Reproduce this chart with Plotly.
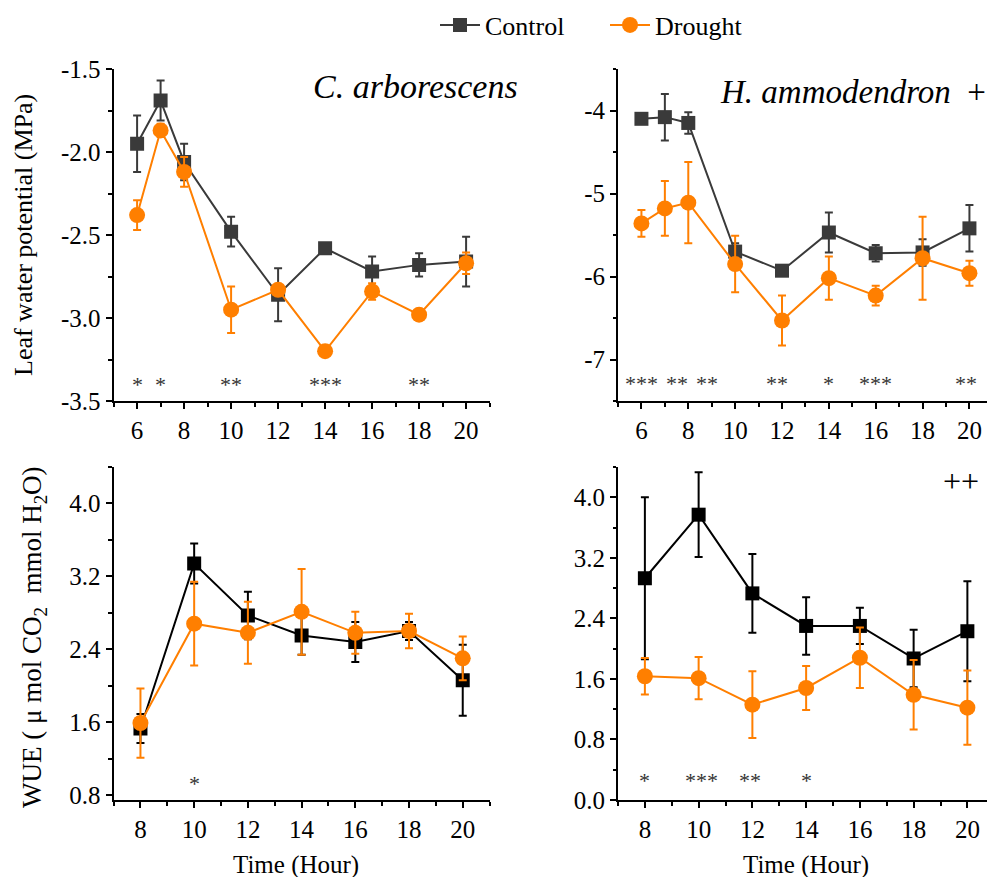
import plotly.graph_objects as go

# ---------------- data ----------------
hours_lwp = [6, 7, 8, 10, 12, 14, 16, 18, 20]
hours_wue = [8, 10, 12, 14, 16, 18, 20]

# C. arborescens - leaf water potential (MPa)
ca_lwp_ctrl = [-1.95, -1.69, -2.06, -2.48, -2.86, -2.58, -2.72, -2.68, -2.66]
ca_lwp_ctrl_err = [0.17, 0.12, 0.11, 0.09, 0.16, 0.03, 0.09, 0.07, 0.15]
ca_lwp_drt = [-2.38, -1.87, -2.12, -2.95, -2.83, -3.20, -2.84, -2.98, -2.67]
ca_lwp_drt_err = [0.09, 0.04, 0.09, 0.14, 0.03, 0.02, 0.05, 0.03, 0.065]

# H. ammodendron - leaf water potential (MPa)
ha_lwp_ctrl = [-4.10, -4.08, -4.15, -5.70, -5.93, -5.47, -5.72, -5.71, -5.42]
ha_lwp_ctrl_err = [0.03, 0.28, 0.13, 0.10, 0.03, 0.24, 0.10, 0.16, 0.28]
ha_lwp_drt = [-5.36, -5.18, -5.11, -5.85, -6.53, -6.02, -6.23, -5.78, -5.96]
ha_lwp_drt_err = [0.16, 0.33, 0.49, 0.34, 0.30, 0.26, 0.12, 0.50, 0.15]

# C. arborescens - WUE
ca_wue_ctrl = [1.53, 3.34, 2.77, 2.55, 2.48, 2.60, 2.06]
ca_wue_ctrl_err = [0.16, 0.22, 0.26, 0.21, 0.22, 0.10, 0.39]
ca_wue_drt = [1.59, 2.68, 2.58, 2.81, 2.58, 2.60, 2.30]
ca_wue_drt_err = [0.38, 0.46, 0.34, 0.47, 0.23, 0.19, 0.24]

# H. ammodendron - WUE
ha_wue_ctrl = [2.93, 3.77, 2.73, 2.30, 2.30, 1.87, 2.23]
ha_wue_ctrl_err = [1.07, 0.56, 0.52, 0.38, 0.24, 0.38, 0.66]
ha_wue_drt = [1.635, 1.61, 1.26, 1.48, 1.88, 1.39, 1.22]
ha_wue_drt_err = [0.24, 0.28, 0.44, 0.29, 0.40, 0.46, 0.49]

# significance marks
ca_lwp_sig_x = [6, 7, 10, 14, 18]
ca_lwp_sig = ["*", "*", "**", "***", "**"]
ha_lwp_sig_x = [6, 7.5, 8.8, 11.8, 14, 16, 19.85]
ha_lwp_sig = ["***", "**", "**", "**", "*", "***", "**"]
ca_wue_sig_x = [10]
ca_wue_sig = ["*"]
ha_wue_sig_x = [8, 10.1, 11.9, 14]
ha_wue_sig = ["*", "***", "**", "*"]

# tick labels
lwp_ca_ticks = [-3.5, -3.0, -2.5, -2.0, -1.5]
lwp_ca_ticktext = ["-3.5", "-3.0", "-2.5", "-2.0", "-1.5"]
lwp_ha_ticks = [-7, -6, -5, -4]
lwp_ha_ticktext = ["-7", "-6", "-5", "-4"]
wue_ca_ticks = [0.8, 1.6, 2.4, 3.2, 4.0]
wue_ha_ticks = [0.0, 0.8, 1.6, 2.4, 3.2, 4.0]
x_lwp_ticks = [6, 8, 10, 12, 14, 16, 18, 20]
x_wue_ticks = [8, 10, 12, 14, 16, 18, 20]

# ---------------- style ----------------
FONT = "Liberation Serif"
CTRL_TOP = "#3a3a3a"
CTRL_BOT = "#000000"
DRT = "#ff7f00"
W, H = 987, 877

fig = go.Figure()


def add_pair(xa, ya, x, yc, ec, yd, ed, ctrl_color, show):
    fig.add_trace(go.Scatter(
        x=x, y=yc, mode="lines+markers", name="Control", legendgroup="c",
        showlegend=show, xaxis=xa, yaxis=ya,
        line=dict(color=ctrl_color, width=2),
        marker=dict(symbol="square", size=14, color=ctrl_color),
        error_y=dict(type="data", array=ec, color=ctrl_color, thickness=2, width=4),
    ))
    fig.add_trace(go.Scatter(
        x=x, y=yd, mode="lines+markers", name="Drought", legendgroup="d",
        showlegend=show, xaxis=xa, yaxis=ya,
        line=dict(color=DRT, width=2),
        marker=dict(symbol="circle", size=16, color=DRT),
        error_y=dict(type="data", array=ed, color=DRT, thickness=2, width=4),
    ))


add_pair("x", "y", hours_lwp, ca_lwp_ctrl, ca_lwp_ctrl_err, ca_lwp_drt, ca_lwp_drt_err, CTRL_TOP, True)
add_pair("x2", "y2", hours_lwp, ha_lwp_ctrl, ha_lwp_ctrl_err, ha_lwp_drt, ha_lwp_drt_err, CTRL_TOP, False)
add_pair("x3", "y3", hours_wue, ca_wue_ctrl, ca_wue_ctrl_err, ca_wue_drt, ca_wue_drt_err, CTRL_BOT, False)
add_pair("x4", "y4", hours_wue, ha_wue_ctrl, ha_wue_ctrl_err, ha_wue_drt, ha_wue_drt_err, CTRL_BOT, False)


def px_x(p):
    return p / W


def px_y(p):
    return 1 - p / H


left_dom = [px_x(113.6), px_x(489.6)]
right_dom = [px_x(618), 1.0]
top_dom = [px_y(401), px_y(69)]
bot_dom = [px_y(800), px_y(467)]

axis_common = dict(
    showline=True, linecolor="black", linewidth=2, mirror=False,
    showgrid=False, zeroline=False,
    ticks="outside", ticklen=6, tickwidth=2, tickcolor="black",
    tickfont=dict(family=FONT, size=25, color="black"),
)


def xax(domain, rng, tickvals, anchor):
    return dict(axis_common, domain=domain, range=rng, tickvals=tickvals,
                anchor=anchor,
                minor=dict(ticks="outside", ticklen=3.5, tickwidth=2, tickcolor="black", dtick=1, tick0=5))


def yax(domain, rng, tickvals, ticktext, anchor, minor_dtick, minor_tick0):
    return dict(axis_common, domain=domain, range=rng, tickvals=tickvals, ticktext=ticktext,
                anchor=anchor,
                minor=dict(ticks="outside", ticklen=3.5, tickwidth=2, tickcolor="black",
                           dtick=minor_dtick, tick0=minor_tick0))


fig.update_layout(
    width=W, height=H,
    margin=dict(l=0, r=0, t=0, b=0, autoexpand=False),
    paper_bgcolor="white", plot_bgcolor="white",
    font=dict(family=FONT, color="black"),
    xaxis=xax(left_dom, [5, 21], x_lwp_ticks, "y"),
    yaxis=yax(top_dom, [-3.5, -1.5], lwp_ca_ticks, lwp_ca_ticktext, "x", 0.25, -1.5),
    xaxis2=xax(right_dom, [5, 20.75], x_lwp_ticks, "y2"),
    yaxis2=yax(top_dom, [-7.5, -3.5], lwp_ha_ticks, lwp_ha_ticktext, "x2", 0.5, -3.5),
    xaxis3=xax(left_dom, [7, 21], x_wue_ticks, "y3"),
    yaxis3=yax(bot_dom, [0.745, 4.4], wue_ca_ticks, [f"{v:.1f}" for v in wue_ca_ticks], "x3", 0.4, 0),
    xaxis4=xax(right_dom, [7, 20.73], x_wue_ticks, "y4"),
    yaxis4=yax(bot_dom, [0, 4.4], wue_ha_ticks, [f"{v:.1f}" for v in wue_ha_ticks], "x4", 0.4, 0),
    legend=dict(orientation="h", x=px_x(435), xanchor="left", y=px_y(25), yanchor="middle",
                font=dict(family=FONT, size=26, color="black"), bgcolor="rgba(0,0,0,0)",
                itemwidth=40, tracegroupgap=0, entrywidth=115, entrywidthmode="pixels"),
)

annotations = []


def add_sig(xref, yref, xs, labels, yval):
    for xv, lab in zip(xs, labels):
        annotations.append(dict(x=xv, y=yval, xref=xref, yref=yref, text=lab, showarrow=False,
                                font=dict(family=FONT, size=22, color="#333333"),
                                xanchor="center", yanchor="middle", yshift=-5))


add_sig("x", "y", ca_lwp_sig_x, ca_lwp_sig, -3.37)
add_sig("x2", "y2", ha_lwp_sig_x, ha_lwp_sig, -7.23)
add_sig("x3", "y3", ca_wue_sig_x, ca_wue_sig, 0.98)
add_sig("x4", "y4", ha_wue_sig_x, ha_wue_sig, 0.32)

# panel labels
annotations.append(dict(x=px_x(415.5), y=px_y(86), xref="paper", yref="paper",
                        text="<i>C. arborescens</i>", showarrow=False,
                        font=dict(family=FONT, size=34, color="black"),
                        xanchor="center", yanchor="middle"))
annotations.append(dict(x=px_x(852.5), y=px_y(92), xref="paper", yref="paper",
                        text="<i>H. ammodendron</i>  +", showarrow=False,
                        font=dict(family=FONT, size=33, color="black"),
                        xanchor="center", yanchor="middle"))
annotations.append(dict(x=px_x(961), y=px_y(481), xref="paper", yref="paper",
                        text="++", showarrow=False,
                        font=dict(family=FONT, size=32, color="black"),
                        xanchor="center", yanchor="middle"))

# axis titles
annotations.append(dict(x=px_x(23), y=px_y(235), xref="paper", yref="paper",
                        text="Leaf water potential (MPa)", textangle=-90, showarrow=False,
                        font=dict(family=FONT, size=26, color="black"),
                        xanchor="center", yanchor="middle"))
annotations.append(dict(x=px_x(34), y=px_y(637), xref="paper", yref="paper",
                        text="WUE ( \u03bc mol CO<sub>2</sub>  mmol H<sub>2</sub>O)", textangle=-90,
                        showarrow=False,
                        font=dict(family=FONT, size=27, color="black"),
                        xanchor="center", yanchor="middle"))
annotations.append(dict(x=px_x(296), y=px_y(865), xref="paper", yref="paper",
                        text="Time (Hour)", showarrow=False,
                        font=dict(family=FONT, size=25, color="black"),
                        xanchor="center", yanchor="middle"))
annotations.append(dict(x=px_x(806), y=px_y(865), xref="paper", yref="paper",
                        text="Time (Hour)", showarrow=False,
                        font=dict(family=FONT, size=25, color="black"),
                        xanchor="center", yanchor="middle"))

fig.update_layout(annotations=annotations)

fig.write_html("out.html", config={"displayModeBar": False},
               post_script="document.body.style.margin='0px';")
